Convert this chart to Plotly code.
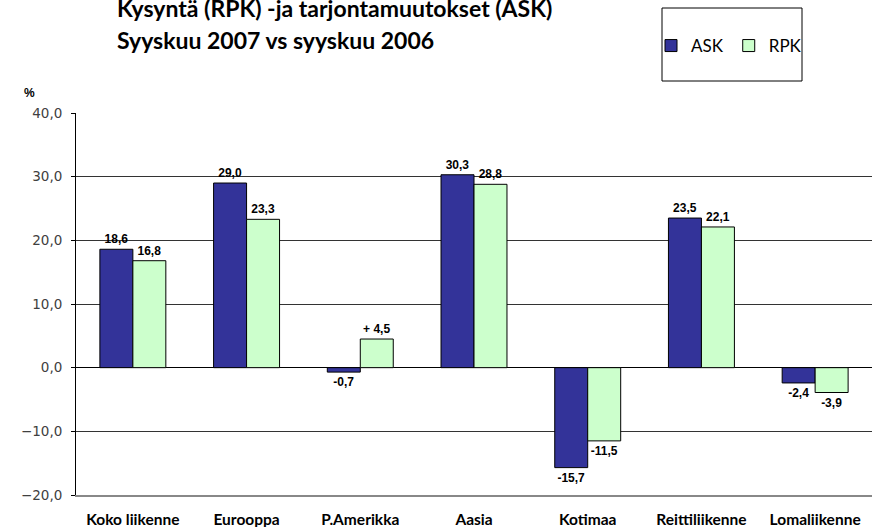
import plotly.graph_objects as go

categories = ["Koko liikenne", "Eurooppa", "P.Amerikka", "Aasia", "Kotimaa", "Reittiliikenne", "Lomaliikenne"]
ask = [18.6, 29.0, -0.7, 30.3, -15.7, 23.5, -2.4]
rpk = [16.8, 23.3, 4.5, 28.8, -11.5, 22.1, -3.9]
ask_labels = ["18,6", "29,0", "-0,7", "30,3", "-15,7", "23,5", "-2,4"]
rpk_labels = ["16,8", "23,3", "+ 4,5", "28,8", "-11,5", "22,1", "-3,9"]
boundaries = [0.5, 1.5, 2.5, 3.5, 4.5, 5.5]

W, H = 872, 527
ML, MR, MT, MB = 76, 0, 113, 32
PW, PH = W - ML - MR, H - MT - MB


def px(x):
    return (x - ML) / PW


def py(y):
    return (H - MB - y) / PH


label_font = dict(family="Liberation Sans, Arial, sans-serif", size=12, color="black", weight="bold")

fig = go.Figure()
fig.add_trace(go.Bar(
    name="ASK", x=categories, y=ask, text=ask_labels, textposition="outside",
    textfont=label_font, cliponaxis=False,
    marker=dict(color="#333399", line=dict(color="black", width=1)),
))
fig.add_trace(go.Bar(
    name="RPK", x=categories, y=rpk, text=rpk_labels, textposition="outside",
    textfont=label_font, cliponaxis=False,
    marker=dict(color="#CCFFCC", line=dict(color="black", width=1)),
))

fig.update_layout(
    width=W, height=H,
    margin=dict(l=ML, r=MR, t=MT, b=MB, pad=0, autoexpand=False),
    paper_bgcolor="white", plot_bgcolor="white",
    separators=", ",
    barmode="group", bargap=0.42, bargroupgap=0,
    showlegend=True,
    legend=dict(
        orientation="h", x=px(729), y=py(46), xanchor="center", yanchor="middle",
        bgcolor="rgba(0,0,0,0)", borderwidth=0,
        font=dict(family="Lato, Liberation Sans, sans-serif", size=17, color="black"),
        itemwidth=30, traceorder="normal",
    ),
    xaxis=dict(
        type="category", categoryorder="array", categoryarray=categories,
        range=[-0.5, 6.5], showgrid=False, zeroline=False,
        showline=True, linecolor="#888888", linewidth=2,
        ticks="outside", ticklen=9, tickcolor="rgba(0,0,0,0)",
        tickfont=dict(family="Lato, Liberation Sans, sans-serif", size=15.5, color="black", weight="bold"),
    ),
    xaxis2=dict(
        overlaying="x", anchor="free", position=1/3, side="bottom",
        range=[-0.5, 6.5], tickmode="array", tickvals=boundaries,
        ticks="outside", ticklen=4, tickcolor="black", tickwidth=1,
        showticklabels=False, showgrid=False, showline=False, zeroline=False,
    ),
    yaxis=dict(
        range=[-20, 40], dtick=10, tick0=0, tickformat=".1f",
        showgrid=True, gridcolor="#333333", gridwidth=1,
        zeroline=True, zerolinecolor="black", zerolinewidth=1,
        showline=True, linecolor="black", linewidth=1,
        ticks="outside", ticklen=4, tickcolor="black", ticklabelstandoff=6,
        tickfont=dict(family="DejaVu Sans, Verdana, sans-serif", size=13.5, color="#404040"),
    ),
    shapes=[dict(
        type="rect", xref="paper", yref="paper",
        x0=px(662), x1=px(802), y0=py(81), y1=py(8),
        line=dict(color="black", width=1), fillcolor="rgba(0,0,0,0)", layer="below",
    )],
    annotations=[
        dict(text="Kysyntä (RPK) -ja tarjontamuutokset (ASK)", xref="paper", yref="paper",
             x=px(115), y=py(8), xanchor="left", yanchor="middle", showarrow=False,
             font=dict(family="Lato, Liberation Sans, sans-serif", size=23, color="black", weight="bold")),
        dict(text="Syyskuu 2007 vs syyskuu 2006", xref="paper", yref="paper",
             x=px(115), y=py(40), xanchor="left", yanchor="middle", showarrow=False,
             font=dict(family="Lato, Liberation Sans, sans-serif", size=23, color="black", weight="bold")),
        dict(text="%", xref="paper", yref="paper",
             x=px(29), y=py(93), xanchor="center", yanchor="middle", showarrow=False,
             font=dict(family="Liberation Sans, Arial, sans-serif", size=12, color="black", weight="bold")),
    ],
)

fig.write_html("out.html", config={"displayModeBar": False},
               post_script="document.body.style.margin='0';document.body.style.overflow='hidden';")
